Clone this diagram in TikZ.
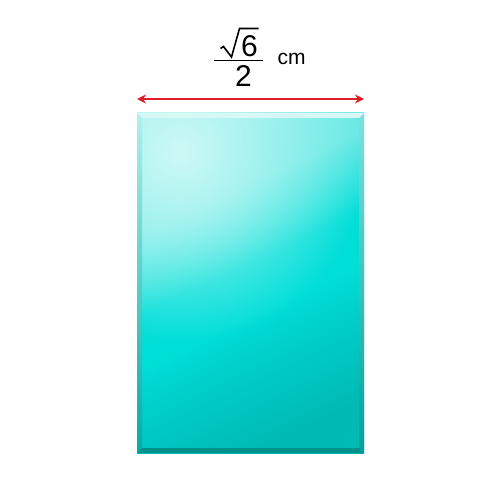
\documentclass[tikz,border=0pt]{standalone}
\usepackage{fontspec}
\setmainfont{Liberation Sans}
\usetikzlibrary{arrows.meta,fadings}
\definecolor{cLight2}{RGB}{150,240,236}
\definecolor{cLight}{RGB}{100,232,228}
\definecolor{cBright}{RGB}{0,222,216}
\definecolor{cMid}{RGB}{0,208,203}
\definecolor{cDark}{RGB}{0,186,181}
\definecolor{glowc}{RGB}{205,249,246}
\definecolor{rimbottom}{RGB}{0,145,140}
\definecolor{rimtop}{RGB}{215,248,245}
\definecolor{rimLtop}{RGB}{175,240,236}
\definecolor{rimLbot}{RGB}{0,172,167}
\definecolor{rimRtop}{RGB}{130,225,220}
\definecolor{rimRbot}{RGB}{0,160,155}
\definecolor{dimred}{RGB}{222,30,40}
\pgfdeclareverticalshading{slab}{100bp}{color(0bp)=(cDark); color(25bp)=(cDark); color(39bp)=(cMid); color(45bp)=(cBright); color(53bp)=(cBright); color(65bp)=(cLight); color(100bp)=(cLight2)}
\tikzfading[name=glowfade, inner color=transparent!0, outer color=transparent!100]
\tikzset{
  lbl/.style={inner sep=0pt, anchor=base, font=\fontsize{30}{36}\selectfont},
  unit/.style={inner sep=0pt, anchor=base west, font=\fontsize{21}{25}\selectfont},
  dimline/.style={draw=dimred, line width=2pt, {Stealth[length=9pt,width=9pt]}-{Stealth[length=9pt,width=9pt]}},
  mathline/.style={line width=1.6pt, black},
}
\begin{document}
\begin{tikzpicture}[x=1pt,y=-1pt]
\useasboundingbox (0,0) rectangle (500,500);
% block
\begin{scope}
\clip (137,113) rectangle (364,453);
\shade[shading=slab, shading angle=25] (137,113) rectangle (364,453);
\fill[glowc, path fading=glowfade] (180,152) circle (190);
\end{scope}
% bevel strips
\shade[top color=rimLtop, bottom color=rimLbot] (137,113) -- (142,118) -- (142,448) -- (137,453) -- cycle;
\shade[top color=rimRtop, bottom color=rimRbot] (364,113) -- (364,453) -- (359,448) -- (359,118) -- cycle;
\fill[rimtop] (137,113) -- (364,113) -- (359,118) -- (142,118) -- cycle;
\fill[rimbottom] (137,453) -- (364,453) -- (359,448) -- (142,448) -- cycle;
% dimension arrow
\coordinate (L) at (137,99);
\coordinate (R) at (364,99);
\draw[dimline] (L) -- (R);
% fraction
\node[lbl] (six) at (249.5,57) {6};
\node[lbl] (two) at (243.5,87) {2};
\draw[mathline, line join=miter] (220.5,48.5) -- (223.5,46.5) -- (231.5,57) -- (239.5,28.5) -- (258.5,28.5);
\draw[mathline] (214,60.5) -- (263,60.5);
\node[unit] (cm) at (277.5,65) {cm};
\end{tikzpicture}
\end{document}
